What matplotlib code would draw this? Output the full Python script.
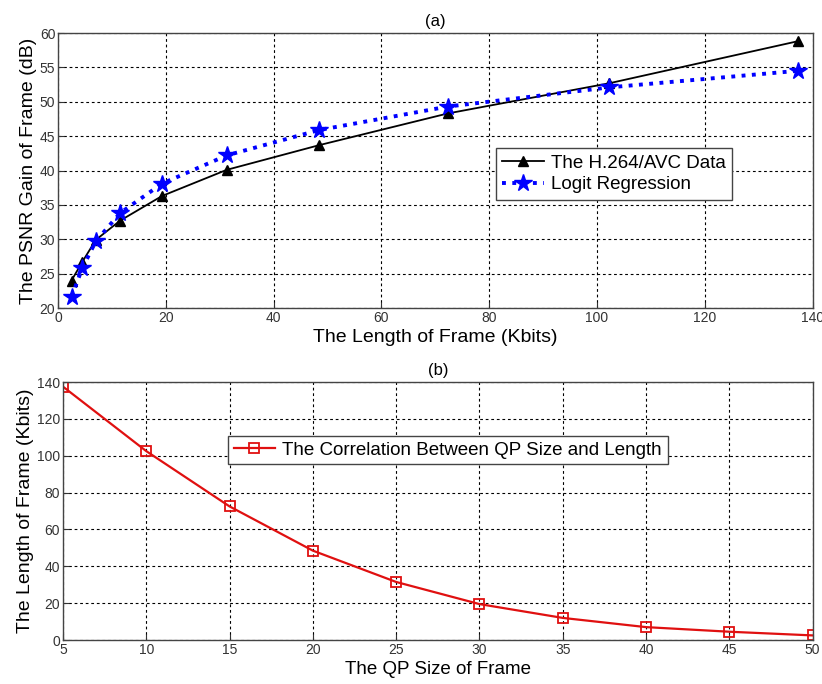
import matplotlib.pyplot as plt

plt.rcParams['font.family'] = ['Liberation Sans', 'DejaVu Sans']

# frame length (Kbits) vs PSNR gain (dB)
frame_len = [2.5, 4.5, 7, 11.5, 19.3, 31.3, 48.5, 72.3, 102.3, 137.2]
psnr_data = [24.0, 26.7, 29.9, 32.7, 36.3, 40.1, 43.7, 48.3, 52.7, 58.8]
psnr_logit = [21.6, 25.8, 29.7, 33.8, 38.1, 42.2, 45.9, 49.3, 52.1, 54.5]

# QP size vs frame length
qp_size = [5, 10, 15, 20, 25, 30, 35, 40, 45, 50]
qp_len = [137.5, 102.5, 72.5, 48.5, 31.5, 19.5, 12.0, 7.0, 4.5, 2.5]

grid_style = dict(color='black', linestyle=(0, (2.5, 2.5)), linewidth=0.8)
tick_color = '#333333'

fig = plt.figure(figsize=(8.22, 6.84), dpi=100)
ax1 = fig.add_axes([0.0706, 0.5497, 0.918, 0.402])
ax2 = fig.add_axes([0.0766, 0.0643, 0.912, 0.3772])

# (a)
ax1.plot(frame_len, psnr_data, color='black', linewidth=1.3, marker='^',
         markersize=7, label='The H.264/AVC Data')
ax1.plot(frame_len, psnr_logit, color='blue', linewidth=2.8, linestyle=':',
         marker='*', markersize=13, label='Logit Regression')
ax1.set_xlim(0, 140)
ax1.set_ylim(20, 60)
ax1.set_xticks(range(0, 141, 20))
ax1.set_yticks(range(20, 61, 5))
ax1.set_xlabel('The Length of Frame (Kbits)', fontsize=14, labelpad=3)
ax1.set_ylabel('The PSNR Gain of Frame (dB)', fontsize=14, labelpad=2)
ax1.set_title('(a)', fontsize=12, pad=5)
ax1.legend(loc='upper left', bbox_to_anchor=(0.58, 0.582), borderaxespad=0,
           fontsize=13.5, fancybox=False, framealpha=1, edgecolor='#444444',
           handlelength=2.2, borderpad=0.35, labelspacing=0.25,
           handletextpad=0.4)

# (b)
ax2.plot(qp_size, qp_len, color='#e01010', linewidth=1.6, marker='s',
         markersize=7, markerfacecolor='none', markeredgewidth=1.3,
         label='The Correlation Between QP Size and Length')
ax2.set_xlim(5, 50)
ax2.set_ylim(0, 140)
ax2.set_xticks(qp_size)
ax2.set_yticks(range(0, 141, 20))
ax2.set_xlabel('The QP Size of Frame', fontsize=13.5, labelpad=3)
ax2.set_ylabel('The Length of Frame (Kbits)', fontsize=14, labelpad=2)
ax2.set_title('(b)', fontsize=12, pad=5)
ax2.legend(loc='upper left', bbox_to_anchor=(0.22, 0.791), borderaxespad=0,
           fontsize=13.5, fancybox=False, framealpha=1, edgecolor='#444444',
           handlelength=2.2, borderpad=0.3, handletextpad=0.4)

for ax in (ax1, ax2):
    ax.grid(True, **grid_style)
    ax.set_axisbelow(True)
    ax.tick_params(direction='in', length=4, labelsize=10,
                   colors=tick_color, labelcolor=tick_color, pad=2)
    for sp in ax.spines.values():
        sp.set_color('#444444')
        sp.set_linewidth(1.0)

fig.savefig('out.png', dpi=100)
